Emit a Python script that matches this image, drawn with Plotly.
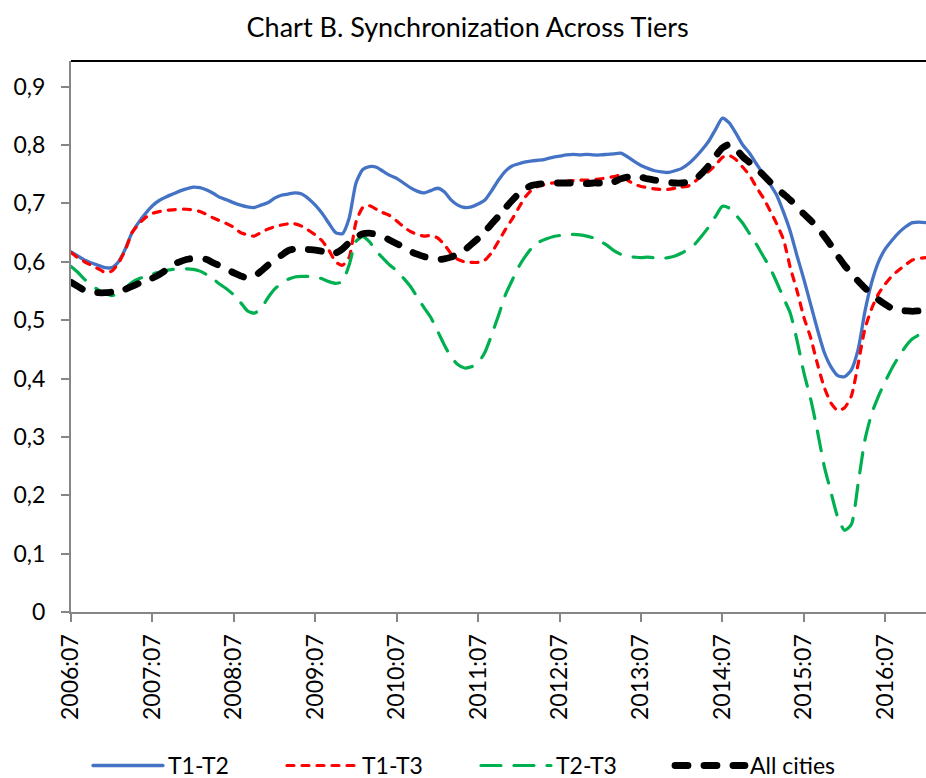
import plotly.graph_objects as go

# Monthly observations, 2006:07 through 2017:01
START_YEAR, START_MONTH = 2006, 7

t1_t2 = [
    0.617, 0.610, 0.603, 0.598, 0.594, 0.590, 0.590, 0.600, 0.622, 0.650,
    0.668, 0.683, 0.696, 0.705, 0.711, 0.716, 0.721, 0.725, 0.728, 0.727,
    0.723, 0.717, 0.710, 0.706, 0.701, 0.697, 0.694, 0.693, 0.697, 0.701,
    0.709, 0.714, 0.716, 0.718, 0.716, 0.708, 0.697, 0.683, 0.666, 0.650,
    0.648, 0.675, 0.735, 0.758, 0.763, 0.762, 0.755, 0.748, 0.743, 0.735,
    0.727, 0.721, 0.718, 0.722, 0.726, 0.720, 0.706, 0.697, 0.693, 0.694,
    0.699, 0.706, 0.722, 0.740, 0.755, 0.764, 0.768, 0.771, 0.773, 0.774,
    0.776, 0.779, 0.781, 0.783, 0.784, 0.783, 0.784, 0.783, 0.783, 0.784,
    0.785, 0.786, 0.780, 0.772, 0.765, 0.760, 0.756, 0.754, 0.753, 0.756,
    0.760, 0.768, 0.779, 0.792, 0.807, 0.827, 0.846, 0.838, 0.820, 0.800,
    0.786, 0.768, 0.750, 0.733, 0.714, 0.685, 0.652, 0.610, 0.570, 0.527,
    0.484, 0.445, 0.420, 0.405, 0.403, 0.415, 0.450, 0.515, 0.565, 0.600,
    0.622, 0.637, 0.650, 0.660, 0.667, 0.668, 0.667,
]

t1_t3 = [
    0.616, 0.607, 0.600, 0.594, 0.588, 0.582, 0.584, 0.598, 0.620, 0.650,
    0.665, 0.676, 0.683, 0.686, 0.688, 0.689, 0.690, 0.690, 0.689, 0.686,
    0.681, 0.675, 0.670, 0.665, 0.659, 0.650, 0.646, 0.644, 0.650, 0.656,
    0.660, 0.663, 0.665, 0.665, 0.661, 0.654, 0.646, 0.636, 0.620, 0.600,
    0.594, 0.608, 0.668, 0.693, 0.696, 0.690, 0.684, 0.679, 0.670, 0.660,
    0.652, 0.647, 0.644, 0.645, 0.641, 0.630, 0.614, 0.604, 0.600, 0.599,
    0.599, 0.603, 0.616, 0.635, 0.655, 0.673, 0.693, 0.712, 0.724, 0.730,
    0.733, 0.735, 0.737, 0.738, 0.739, 0.740, 0.740, 0.741, 0.742, 0.744,
    0.746, 0.748, 0.740, 0.733, 0.729, 0.727, 0.725, 0.724, 0.724, 0.726,
    0.728, 0.730, 0.738, 0.748, 0.755, 0.766, 0.779, 0.782, 0.775, 0.762,
    0.748, 0.728, 0.710, 0.688, 0.665, 0.638, 0.590, 0.550, 0.505, 0.470,
    0.425, 0.385, 0.358, 0.345, 0.350, 0.370, 0.425, 0.485, 0.520, 0.545,
    0.562, 0.576, 0.586, 0.595, 0.603, 0.606, 0.607,
]

t2_t3 = [
    0.592, 0.582, 0.570, 0.560, 0.552, 0.546, 0.542, 0.546, 0.555, 0.565,
    0.571, 0.575, 0.579, 0.582, 0.585, 0.587, 0.588, 0.588, 0.587, 0.584,
    0.578, 0.570, 0.561, 0.553, 0.543, 0.530, 0.516, 0.512, 0.520, 0.538,
    0.553, 0.563, 0.570, 0.574, 0.575, 0.575, 0.574, 0.571, 0.566, 0.563,
    0.566, 0.595, 0.635, 0.643, 0.634, 0.618, 0.606, 0.594, 0.585, 0.572,
    0.558, 0.540, 0.522, 0.505, 0.482, 0.458, 0.437, 0.424, 0.418, 0.420,
    0.427, 0.445, 0.475, 0.508, 0.543, 0.568, 0.592, 0.610, 0.625, 0.634,
    0.639, 0.643, 0.645, 0.647, 0.647, 0.646, 0.644, 0.641, 0.635, 0.628,
    0.619, 0.613, 0.609, 0.608, 0.607, 0.608, 0.607, 0.606, 0.607, 0.610,
    0.615, 0.622, 0.631, 0.645, 0.660, 0.678, 0.695, 0.692, 0.680, 0.666,
    0.648, 0.630, 0.610, 0.590, 0.565, 0.538, 0.512, 0.465, 0.410, 0.365,
    0.310, 0.250, 0.205, 0.162, 0.140, 0.150, 0.220, 0.295, 0.340, 0.370,
    0.395, 0.418, 0.438, 0.455, 0.468, 0.475, 0.478,
]

all_cities = [
    0.565, 0.558, 0.551, 0.548, 0.547, 0.547, 0.548, 0.549, 0.553, 0.558,
    0.563, 0.568, 0.572, 0.578, 0.586, 0.595, 0.600, 0.604, 0.606, 0.606,
    0.604, 0.598, 0.593, 0.587, 0.581, 0.576, 0.572, 0.575, 0.584, 0.594,
    0.603, 0.611, 0.619, 0.622, 0.622, 0.621, 0.620, 0.618, 0.616, 0.615,
    0.622, 0.633, 0.642, 0.648, 0.649, 0.647, 0.643, 0.637, 0.631, 0.625,
    0.618, 0.613, 0.609, 0.607, 0.604, 0.605, 0.608, 0.613, 0.620, 0.630,
    0.640, 0.652, 0.665, 0.678, 0.692, 0.705, 0.717, 0.726, 0.731, 0.733,
    0.734, 0.735, 0.735, 0.735, 0.735, 0.735, 0.734, 0.735, 0.735, 0.736,
    0.737, 0.742, 0.745, 0.746, 0.745, 0.742, 0.740, 0.738, 0.736, 0.735,
    0.735, 0.737, 0.741, 0.752, 0.765, 0.781, 0.795, 0.801, 0.793, 0.780,
    0.770, 0.760, 0.749, 0.737, 0.726, 0.716, 0.706, 0.694, 0.682, 0.671,
    0.658, 0.644, 0.628, 0.610, 0.594, 0.580, 0.567, 0.555, 0.545, 0.535,
    0.527, 0.520, 0.517, 0.516, 0.515, 0.516, 0.517,
]

y_tick_vals = [0, 0.1, 0.2, 0.3, 0.4, 0.5, 0.6, 0.7, 0.8, 0.9]
y_tick_text = ["0", "0,1", "0,2", "0,3", "0,4", "0,5", "0,6", "0,7", "0,8", "0,9"]

# Month labels "YYYY:MM" for every observation
n = len(t1_t2)
month_idx = list(range(n))
labels = []
for i in month_idx:
    m = START_MONTH - 1 + i
    labels.append(f"{START_YEAR + m // 12}:{m % 12 + 1:02d}")
x_tick_vals = month_idx[::12]
x_tick_text = labels[::12]

FONT = "Lato"

fig = go.Figure()
series = [
    ("T1-T2", t1_t2, "#4472C4", 3.3, "solid"),
    ("T1-T3", t1_t3, "#FF0000", 3.2, "7px,8px"),
    ("T2-T3", t2_t3, "#00B050", 3.2, "20px,13px"),
    ("All cities", all_cities, "#000000", 6.8, "13px,16px"),
]
for name, vals, color, width, dash in series:
    fig.add_trace(go.Scatter(
        x=month_idx, y=vals, name=name, mode="lines",
        customdata=labels,
        hovertemplate="%{customdata}: %{y:.3f}<extra>" + name + "</extra>",
        line=dict(color=color, width=width, dash=dash, shape="spline", smoothing=0.6),
    ))

fig.update_layout(
    width=926, height=778,
    margin=dict(l=71, r=0, t=61, b=166),
    paper_bgcolor="white", plot_bgcolor="white",
    font=dict(family=FONT, size=23, color="#000000"),
    title=dict(text="Chart B. Synchronization Across Tiers", x=0.505, xanchor="center",
               y=0.965, yanchor="middle", font=dict(family=FONT, size=27)),
    showlegend=True,
    legend=dict(orientation="h", xref="container", x=0.095, xanchor="left",
                yref="container", y=0.016, yanchor="middle",
                entrywidth=109, entrywidthmode="pixels",
                font=dict(family=FONT, size=23), itemwidth=70),
    hovermode="closest",
)

fig.update_xaxes(
    range=[0, n - 1], tickmode="array", tickvals=x_tick_vals, ticktext=x_tick_text,
    tickangle=-90, ticks="outside", ticklen=8, tickcolor="#868686", tickwidth=1.5,
    showline=True, linecolor="#868686", linewidth=2, showgrid=False, zeroline=False,
    tickfont=dict(family=FONT, size=23), ticklabelstandoff=3,
)
fig.update_yaxes(
    range=[0, 0.944], tickmode="array", tickvals=y_tick_vals, ticktext=y_tick_text,
    ticks="outside", ticklen=8, tickcolor="#868686", tickwidth=1.5,
    showline=True, linecolor="#868686", linewidth=2, showgrid=False, zeroline=False,
    tickfont=dict(family=FONT, size=23), ticklabelstandoff=11,
)

# Top border of the plot area
fig.add_shape(type="line", xref="paper", yref="paper", x0=0, x1=1, y0=1, y1=1,
              line=dict(color="#000000", width=2))

# Round the ends of the dashes, as in the original line styles
round_caps = (
    "document.querySelectorAll('.scatterlayer path.js-line, .legend path.js-line')"
    ".forEach(function(p){p.style.strokeLinecap='round';p.style.strokeLinejoin='round';});"
)
fig.write_html("out.html", post_script=round_caps)
